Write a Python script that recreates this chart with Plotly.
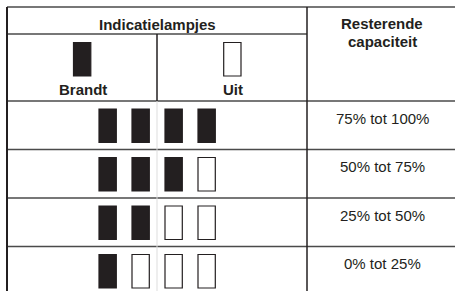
import plotly.graph_objects as go

# ---- data ----
header_group = "Indicatielampjes"
header_cap = ["Resterende", "capaciteit"]
legend_labels = ["Brandt", "Uit"]
lit_counts = [4, 3, 2, 1]
capacity_labels = ["75% tot 100%", "50% tot 75%", "25% tot 50%", "0% tot 25%"]
n_lamps = 4

# ---- layout constants (pixel space) ----
W, H = 455, 291
LEFT, TOP, RIGHT = 7, 7, 455
COL_DIV = 307
SUB_DIV = 157
HDR_LINE = 34
HDR_BOTTOM = 101
ROW_H = 48.5
LAMP_X0 = 99
LAMP_STEP = 33
LAMP_W = 17.3
LAMP_H = 33.5
LAMP_OFF = 8
INK = "#231f20"
LINE = "#4a4a4a"
FONT = "Liberation Sans, Arial, sans-serif"

fig = go.Figure()
shapes = []
annotations = []

def hline(y, x0, x1, color=LINE, w=1.5):
    shapes.append(dict(type="line", x0=x0, x1=x1, y0=y, y1=y, xref="x", yref="y",
                       line=dict(color=color, width=w)))

def vline(x, y0, y1, color=LINE, w=1.5):
    shapes.append(dict(type="line", x0=x, x1=x, y0=y0, y1=y1, xref="x", yref="y",
                       line=dict(color=color, width=w)))

def lamp(x0, y0, lit):
    shapes.append(dict(type="rect", x0=x0, x1=x0 + LAMP_W, y0=y0, y1=y0 + LAMP_H,
                       xref="x", yref="y",
                       fillcolor=INK if lit else "white",
                       line=dict(color=INK, width=1.2)))

def text(s, x, y, bold=False):
    annotations.append(dict(text=f"<b>{s}</b>" if bold else s, x=x, y=y, xref="x", yref="y",
                            showarrow=False, xanchor="center", yanchor="middle",
                            font=dict(family=FONT, size=15, color=INK)))

# grid lines
hline(TOP, LEFT, RIGHT)
hline(HDR_LINE, LEFT, COL_DIV)
hline(HDR_BOTTOM, LEFT, RIGHT)
row_tops = [HDR_BOTTOM + i * ROW_H for i in range(len(lit_counts))]
for rt in row_tops[1:]:
    hline(rt, LEFT, RIGHT)
vline(SUB_DIV, HDR_BOTTOM, H, color="#dddddd", w=1)
vline(SUB_DIV, HDR_LINE, HDR_BOTTOM, color=INK, w=1.5)
vline(COL_DIV, TOP, H, color=INK, w=1.5)
vline(LEFT, TOP, H, color=INK, w=2)

# header
text(header_group, 157, 24, bold=True)
text(header_cap[0], 382, 23.5, bold=True)
text(header_cap[1], 382, 41, bold=True)
lamp(73.5, 42.5, True)
lamp(223.7, 42.5, False)
text(legend_labels[0], 82.5, 89, bold=True)
text(legend_labels[1], 233, 89, bold=True)

# rows
for rt, n_on, lab in zip(row_tops, lit_counts, capacity_labels):
    for i in range(n_lamps):
        lamp(LAMP_X0 + i * LAMP_STEP, rt + LAMP_OFF, i < n_on)
    text(lab, 382, rt + 17)

fig.add_trace(go.Scatter(x=[0], y=[0], mode="markers", marker=dict(opacity=0),
                         hoverinfo="skip", showlegend=False))
fig.update_layout(
    width=W, height=H, margin=dict(l=0, r=0, t=0, b=0),
    paper_bgcolor="white", plot_bgcolor="white",
    shapes=shapes, annotations=annotations, showlegend=False,
    xaxis=dict(range=[0, W], visible=False, fixedrange=True),
    yaxis=dict(range=[H, 0], visible=False, fixedrange=True),
)
fig.write_html("out.html", config={"displayModeBar": False},
               post_script="document.body.style.margin='0';document.body.style.overflow='hidden';")
